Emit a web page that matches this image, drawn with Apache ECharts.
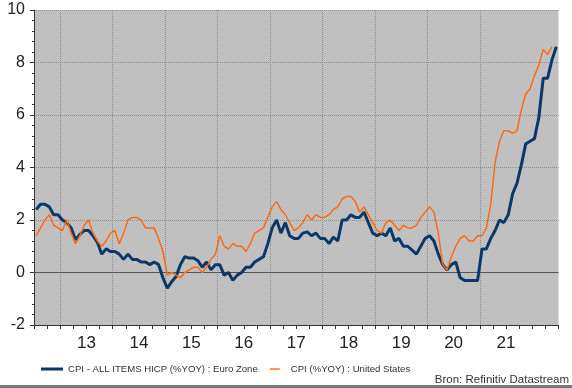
<!DOCTYPE html>
<html>
<head>
<meta charset="utf-8">
<script src="https://cdn.jsdelivr.net/npm/echarts@6/dist/echarts.min.js"></script>
<style>
html,body{margin:0;padding:0;background:#fff;}
#chart{width:572px;height:388px;}
</style>
</head>
<body>
<div id="chart"></div>
<script>
// Monthly data, first value = July 2012 (month index -6 relative to Jan 2013)
const firstMonthIndex = -6;
const euroName = 'CPI - ALL ITEMS HICP (%YOY) : Euro Zone';
const usName = 'CPI (%YOY) : United States';

const euroValues = [
  2.4, 2.6, 2.6, 2.5, 2.2, 2.2,
  2.0, 1.9, 1.7, 1.25, 1.45, 1.6, 1.6, 1.4, 1.15, 0.7, 0.9, 0.8,
  0.8, 0.7, 0.5, 0.7, 0.5, 0.5, 0.4, 0.4, 0.3, 0.4, 0.3, -0.2,
  -0.6, -0.35, -0.15, 0.3, 0.6, 0.55, 0.55, 0.45, 0.2, 0.4, 0.1, 0.3,
  0.3, -0.1, 0.0, -0.3, -0.1, 0.0, 0.2, 0.2, 0.4, 0.5, 0.6, 1.1,
  1.7, 2.0, 1.5, 1.9, 1.4, 1.3, 1.3, 1.5, 1.55, 1.4, 1.5, 1.3,
  1.3, 1.1, 1.35, 1.2, 2.0, 2.0, 2.2, 2.1, 2.1, 2.3, 1.9, 1.5,
  1.4, 1.5, 1.4, 1.7, 1.2, 1.3, 1.0, 1.0, 0.85, 0.7, 1.0, 1.3,
  1.4, 1.2, 0.7, 0.3, 0.1, 0.3, 0.4, -0.2, -0.3, -0.3, -0.3, -0.3,
  0.9, 0.9, 1.3, 1.6, 2.0, 1.9, 2.2, 3.0, 3.4, 4.1, 4.9, 5.0,
  5.1, 5.9, 7.4, 7.4, 8.1, 8.6
];

const usValues = [
  1.4, 1.7, 2.0, 2.2, 1.8, 1.7,
  1.6, 2.0, 1.5, 1.1, 1.4, 1.8, 2.0, 1.5, 1.2, 1.0, 1.2, 1.5,
  1.6, 1.1, 1.5, 2.0, 2.1, 2.1, 2.0, 1.7, 1.7, 1.7, 1.3, 0.8,
  -0.1, 0.0, -0.1, -0.2, 0.0, 0.1, 0.2, 0.2, 0.0, 0.2, 0.5, 0.7,
  1.4, 1.0, 0.9, 1.1, 1.0, 1.0, 0.8, 1.1, 1.5, 1.6, 1.7, 2.1,
  2.5, 2.7, 2.4, 2.2, 1.9, 1.6, 1.7, 1.9, 2.2, 2.0, 2.2, 2.1,
  2.1, 2.2, 2.4, 2.5, 2.8, 2.9, 2.9, 2.7, 2.3, 2.5, 2.2, 1.9,
  1.6, 1.5, 1.9, 2.0, 1.8, 1.6, 1.8, 1.7, 1.7, 1.8, 2.1, 2.3,
  2.5, 2.3, 1.5, 0.3, 0.1, 0.6, 1.0, 1.3, 1.4, 1.2, 1.2, 1.4,
  1.4, 1.7, 2.6, 4.2, 5.0, 5.4, 5.4, 5.3, 5.4, 6.2, 6.8, 7.0,
  7.5, 7.9, 8.5, 8.3, 8.6
];

const yearLabels = ['13', '14', '15', '16', '17', '18', '19', '20', '21'];
const yTickLabels = ['-2', '0', '2', '4', '6', '8', '10'];

// axis range in months relative to Jan 2013 (Jul 2012 .. Jul 2022)
const xMin = -6, xMax = 114;
const yearBoundaries = yearLabels.map((_, i) => i * 12);
const yearLabelPos = yearLabels.map((_, i) => i * 12 + 6);
const quarterTicks = [];
for (let m = xMin; m <= xMax; m += 3) quarterTicks.push(m);

const toPoints = vals => vals.map((v, i) => [firstMonthIndex + i + 0.5, v]);
const FONT = 'Liberation Sans, Arial, sans-serif';

const gridMarks = yearBoundaries.map(v => ({
  xAxis: v, lineStyle: {type: 'dotted', color: '#8e8e8e', width: 1}
}));
gridMarks.push({yAxis: 0, lineStyle: {type: 'solid', color: '#555', width: 1}});

const chart = echarts.init(document.getElementById('chart'), null, {renderer: 'canvas'});
chart.setOption({
  animation: false,
  backgroundColor: '#ffffff',
  textStyle: {fontFamily: FONT},
  grid: {
    left: 34, right: 13.5, top: 10, bottom: 63,
    show: true, backgroundColor: '#C0C0C0', borderWidth: 0, containLabel: false
  },
  legend: {
    left: 36, top: 359,
    itemWidth: 22, itemHeight: 3, itemGap: 12,
    textStyle: {fontSize: 9.6, color: '#333', fontFamily: FONT},
    data: [
      {name: euroName, icon: 'rect'},
      {name: usName, icon: 'path://M0,0L0,0M0,3L0,3M0,0.8L10,0.8L10,2.2L0,2.2Z'}
    ]
  },
  xAxis: {
    type: 'value', min: xMin, max: xMax,
    axisLine: {show: true, onZero: false, lineStyle: {color: '#333', width: 1}},
    axisTick: {show: true, customValues: quarterTicks, length: 4, lineStyle: {color: '#333'}},
    axisLabel: {
      customValues: yearLabelPos, margin: 10, fontSize: 17, color: '#222',
      formatter: v => yearLabels[Math.round((v - 6) / 12)]
    },
    splitLine: {show: false}
  },
  yAxis: {
    type: 'value', min: -2, max: 10, interval: 2,
    axisLine: {show: true, onZero: false, lineStyle: {color: '#333', width: 1}},
    axisTick: {show: true, length: 4, lineStyle: {color: '#333'}},
    minorTick: {show: true, splitNumber: 5, length: 2, lineStyle: {color: '#333'}},
    axisLabel: {
      margin: 9, fontSize: 16, color: '#222',
      formatter: v => yTickLabels[Math.round((v + 2) / 2)]
    },
    splitLine: {show: true, lineStyle: {type: 'dotted', color: '#8e8e8e', width: 1}}
  },
  series: [{
    name: 'grid', type: 'line', data: [], symbol: 'none', z: 1,
    markLine: {
      silent: true, symbol: 'none', label: {show: false}, z: 1,
      data: gridMarks
    }
  }, {
    name: euroName, type: 'line',
    data: toPoints(euroValues),
    symbol: 'none', smooth: false,
    lineStyle: {color: '#0A3868', width: 3},
    itemStyle: {color: '#0A3868'},
    z: 2
  }, {
    name: usName, type: 'line',
    data: toPoints(usValues),
    symbol: 'none', smooth: false,
    lineStyle: {color: '#FF6A10', width: 1.5},
    itemStyle: {color: '#FF6A10'},
    z: 3
  }],
  graphic: [{
    type: 'text', right: 3, top: 374,
    style: {text: 'Bron: Refinitiv Datastream', fontSize: 11.5, fill: '#333', fontFamily: FONT}
  }, {
    type: 'rect', left: 0, top: 385, shape: {width: 572, height: 3},
    style: {fill: '#7a7a7a'}
  }]
});
</script>
</body>
</html>
